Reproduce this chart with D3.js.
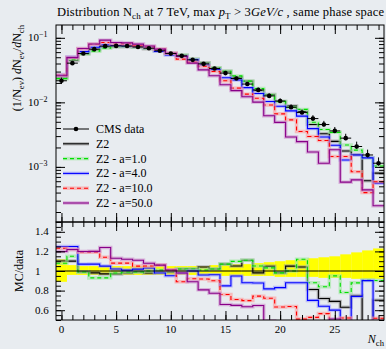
<!DOCTYPE html>
<html>
<head>
<meta charset="utf-8">
<script src="https://cdn.jsdelivr.net/npm/d3@7"></script>
<style>
  body { margin: 0; background: #e8ecf0; }
  svg { display: block; font-family: "Liberation Serif", "DejaVu Serif", serif; }
</style>
</head>
<body>
<svg id="chart" width="386" height="349"></svg>
<script>
// bin centres (N_ch)
const nch = [0,1,2,3,4,5,6,7,8,9,10,11,12,13,14,15,16,17,18,19,20,21,22,23,24,25,26,27,28,29];

// CMS data and its relative uncertainty (up / down)
const cmsData = [0.0216,0.0405,0.0571,0.0668,0.0743,0.0750,0.0745,0.0720,0.0690,0.0630,
                 0.0570,0.0526,0.0456,0.0395,0.0334,0.0284,0.0234,0.0192,0.0156,0.0126,
                 0.0105,0.0084,0.00695,0.0056,0.00453,0.00361,0.00279,0.00207,0.00153,0.00114];
const cmsErrUp = [0.12,0.06,0.05,0.05,0.05,0.05,0.05,0.05,0.05,0.05,0.05,0.05,0.05,0.05,0.06,
                  0.06,0.07,0.07,0.08,0.09,0.10,0.11,0.12,0.13,0.14,0.15,0.17,0.19,0.21,0.23];
const cmsErrDn = [0.11,0.04,0.04,0.04,0.04,0.04,0.04,0.04,0.04,0.04,0.04,0.04,0.04,0.04,0.04,
                  0.05,0.05,0.05,0.05,0.05,0.06,0.06,0.06,0.06,0.07,0.07,0.07,0.08,0.08,0.08];

// MC predictions
const z2 = [0.0238,0.0446,0.0565,0.0655,0.0721,0.0728,0.0730,0.0713,0.0676,0.0630,
            0.0564,0.0537,0.0465,0.0411,0.0341,0.0304,0.0246,0.0213,0.0153,0.0132,
            0.0103,0.00882,0.00723,0.00454,0.00326,0.00249,0.00176,0.00155,0.00061,0.00080];
const z2a1 = [0.0233,0.0466,0.0565,0.0621,0.0691,0.0735,0.0738,0.0713,0.0690,0.0636,
              0.0570,0.0537,0.0465,0.0399,0.0341,0.0304,0.0257,0.0213,0.0164,0.0130,
              0.0103,0.0084,0.00778,0.00493,0.00380,0.00343,0.00218,0.00182,0.00139,0.00103];
const z2a4 = [0.0270,0.0506,0.0611,0.0715,0.0780,0.0765,0.0752,0.0734,0.0711,0.0617,
              0.0542,0.0515,0.0456,0.0379,0.0321,0.0241,0.0222,0.0169,0.0137,0.0103,
              0.00872,0.00739,0.00612,0.00392,0.00290,0.00217,0.00128,0.00153,0.00138,0.00056];
const z2a10 = [0.0266,0.0494,0.0680,0.0795,0.0847,0.0810,0.0805,0.0756,0.0725,0.0668,
               0.0576,0.0468,0.0420,0.0363,0.0301,0.0216,0.0166,0.0134,0.0116,0.0091,
               0.00664,0.00536,0.00354,0.00295,0.00256,0.00145,0.00145,0.00084,0.00040,0.00059];
const z2a50 = [0.0259,0.0494,0.0685,0.0802,0.0921,0.0848,0.0834,0.0799,0.0745,0.0668,
               0.0576,0.0515,0.0406,0.0319,0.0258,0.0187,0.0152,0.0122,0.0101,0.0062,
               0.0049,0.0029,0.00246,0.0017,0.00114,0.00184,0.00058,0.00063,0.00044,0.00025];

const legendNames = ["CMS data", "Z2", "Z2 - a=1.0", "Z2 - a=4.0", "Z2 - a=10.0", "Z2 - a=50.0"];
const mainTicks = [1e-3, 1e-2, 1e-1];
const mainTickExp = ["\u22123", "\u22122", "\u22121"];
const ratioTicks = [0.6, 0.8, 1, 1.2, 1.4];
const ratioTickLabels = ["0.6", "0.8", "1", "1.2", "1.4"];
const xTicks = [0, 5, 10, 15, 20, 25];

const series = [
  {values: z2,    color: "#000000", halo: "#9a9a9a", dash: null},
  {values: z2a1,  color: "#00e000", halo: "#9be89b", dash: "4,3"},
  {values: z2a4,  color: "#0000ff", halo: "#9a9aff", dash: null},
  {values: z2a10, color: "#ff0000", halo: "#ff9a9a", dash: "4,3"},
  {values: z2a50, color: "#880088", halo: "#cc88cc", dash: null}
];

const L = 56, R = 384, T = 25, MB = 222, RB = 320;

const svg = d3.select("#chart");

const x = d3.scaleLinear().domain([-0.5, 29.5]).range([L, R]);
const y = d3.scaleLog().domain([1.4e-4, 0.158]).range([MB, T]);
const yr = d3.scaleLinear().domain([0.5, 1.5]).range([RB, MB]);

svg.append("defs").append("clipPath").attr("id", "clipMain")
  .append("rect").attr("x", L).attr("y", T).attr("width", R - L).attr("height", MB - T);
svg.select("defs").append("clipPath").attr("id", "clipRatio")
  .append("rect").attr("x", L).attr("y", MB).attr("width", R - L).attr("height", RB - MB);

// step outline of a histogram
function stepPts(vals) {
  const pts = vals.map((v, i) => [nch[i] - 0.5, v]);
  pts.push([nch[nch.length - 1] + 0.5, vals[vals.length - 1]]);
  return pts;
}
const lineMain = d3.line().x(d => x(d[0])).y(d => y(d[1])).curve(d3.curveStepAfter);
const lineRatio = d3.line().x(d => x(d[0])).y(d => yr(d[1])).curve(d3.curveStepAfter);

function drawSeries(g, gen, vals, s) {
  g.append("path").attr("d", gen(stepPts(vals)))
    .attr("fill", "none").attr("stroke", s.halo).attr("stroke-width", 3.5).attr("opacity", 0.6);
  g.append("path").attr("d", gen(stepPts(vals)))
    .attr("fill", "none").attr("stroke", s.color).attr("stroke-width", 1.1)
    .attr("stroke-dasharray", s.dash);
}

// ---------- main panel ----------
const gMain = svg.append("g").attr("clip-path", "url(#clipMain)");
series.forEach(s => drawSeries(gMain, lineMain, s.values, s));

// data points
const pts = svg.append("g").attr("clip-path", "url(#clipMain)");
cmsData.forEach((v, i) => {
  pts.append("line").attr("x1", x(nch[i] - 0.5)).attr("x2", x(nch[i] + 0.5))
    .attr("y1", y(v)).attr("y2", y(v)).attr("stroke", "#000").attr("stroke-width", 1);
  pts.append("line").attr("x1", x(nch[i])).attr("x2", x(nch[i]))
    .attr("y1", y(v * (1 + cmsErrUp[i]))).attr("y2", y(v * (1 - cmsErrDn[i])))
    .attr("stroke", "#000").attr("stroke-width", 1);
  pts.append("circle").attr("cx", x(nch[i])).attr("cy", y(v)).attr("r", 2.3).attr("fill", "#000");
});

// legend
const leg = svg.append("g").attr("font-size", "12px");
legendNames.forEach((name, i) => {
  const ly = 129 + i * 14.8;
  if (i == 0) {
    leg.append("line").attr("x1", 63).attr("x2", 89).attr("y1", ly).attr("y2", ly)
      .attr("stroke", "#000").attr("stroke-width", 1);
    leg.append("circle").attr("cx", 76).attr("cy", ly).attr("r", 2.3).attr("fill", "#000");
  } else {
    const s = series[i - 1];
    leg.append("line").attr("x1", 63).attr("x2", 89).attr("y1", ly).attr("y2", ly)
      .attr("stroke", s.halo).attr("stroke-width", 3.5).attr("opacity", 0.6);
    leg.append("line").attr("x1", 63).attr("x2", 89).attr("y1", ly).attr("y2", ly)
      .attr("stroke", s.color).attr("stroke-width", 1.1).attr("stroke-dasharray", s.dash);
  }
  leg.append("text").attr("x", 96).attr("y", ly + 4).attr("fill", "#000").text(name);
});

// ---------- ratio panel ----------
const gRatio = svg.append("g").attr("clip-path", "url(#clipRatio)");
cmsData.forEach((v, i) => {
  gRatio.append("rect").attr("x", x(nch[i] - 0.5)).attr("width", x(1) - x(0))
    .attr("y", yr(1 + cmsErrUp[i])).attr("height", yr(1 - cmsErrDn[i]) - yr(1 + cmsErrUp[i]))
    .attr("fill", "#ffff00");
});
series.forEach(s => drawSeries(gRatio, lineRatio, s.values.map((v, i) => v / cmsData[i]), s));
gRatio.append("path").attr("d", lineRatio(stepPts(cmsData.map(() => 1))))
  .attr("fill", "none").attr("stroke", "#000").attr("stroke-width", 1);

// ---------- axes / ticks ----------
function ticks(gen, tx, ty) {
  svg.append("g").attr("transform", "translate(" + tx + "," + ty + ")")
    .attr("color", "#000").call(gen.tickFormat(""))
    .call(g => g.select(".domain").remove());
}
const minorX = nch;
[T, RB].forEach(yy => {
  const mk = yy == T ? d3.axisBottom : d3.axisTop;
  ticks(mk(x).tickValues(minorX).tickSize(5), 0, yy);
  ticks(mk(x).tickValues(xTicks).tickSize(9), 0, yy);
});
ticks(d3.axisTop(x).tickValues(minorX).tickSize(5), 0, MB);
ticks(d3.axisTop(x).tickValues(xTicks).tickSize(9), 0, MB);
ticks(d3.axisBottom(x).tickValues(minorX).tickSize(5), 0, MB);
ticks(d3.axisBottom(x).tickValues(xTicks).tickSize(9), 0, MB);

const minorY = y.ticks();
ticks(d3.axisRight(y).tickValues(minorY).tickSize(5), L, 0);
ticks(d3.axisRight(y).tickValues(mainTicks).tickSize(9), L, 0);
ticks(d3.axisLeft(y).tickValues(minorY).tickSize(5), R, 0);
ticks(d3.axisLeft(y).tickValues(mainTicks).tickSize(9), R, 0);

const minorR = yr.ticks(20);
ticks(d3.axisRight(yr).tickValues(minorR).tickSize(5), L, 0);
ticks(d3.axisRight(yr).tickValues(ratioTicks).tickSize(9), L, 0);
ticks(d3.axisLeft(yr).tickValues(minorR).tickSize(5), R, 0);
ticks(d3.axisLeft(yr).tickValues(ratioTicks).tickSize(9), R, 0);

// frames
[[T, MB], [MB, RB]].forEach(p => {
  svg.append("rect").attr("x", L).attr("y", p[0]).attr("width", R - L).attr("height", p[1] - p[0])
    .attr("fill", "none").attr("stroke", "#000").attr("stroke-width", 1);
});

// tick labels
const lab = svg.append("g").attr("font-size", "11px").attr("fill", "#000");
mainTicks.forEach((v, i) => {
  const t = lab.append("text").attr("x", 28).attr("y", y(v) + 3.5);
  t.append("tspan").text("10");
  t.append("tspan").attr("dy", -4).attr("font-size", "8px").text(mainTickExp[i]);
});
ratioTicks.forEach((v, i) => {
  lab.append("text").attr("x", 35).attr("y", yr(v) + 3.5).text(ratioTickLabels[i]);
});
xTicks.forEach(v => {
  lab.append("text").attr("x", x(v)).attr("y", 333).attr("text-anchor", "middle").text(v);
});

// rich text helper
function rich(t, parts) {
  parts.forEach(p => {
    const s = t.append("tspan").text(p.t);
    if (p.i) s.attr("font-style", "italic");
    if (p.sub) s.attr("font-size", "0.72em").attr("dy", 2.5);
    if (p.back) s.attr("dy", -2.5);
  });
}

// title
const title = svg.append("text").attr("x", 57).attr("y", 16)
  .attr("font-size", "12.5px").attr("fill", "#000")
  .attr("textLength", 327).attr("lengthAdjust", "spacing");
rich(title, [
  {t: "Distribution N"}, {t: "ch", sub: true}, {t: " at 7 TeV, max ", back: true},
  {t: "p", i: true}, {t: "T", sub: true}, {t: " > 3", back: true}, {t: "GeV/c", i: true},
  {t: " , same phase space"}
]);

// y labels
const yl = svg.append("text").attr("transform", "translate(21," + T + ") rotate(-90)")
  .attr("text-anchor", "end").attr("font-size", "12px").attr("fill", "#000");
rich(yl, [
  {t: "(1/N"}, {t: "ev", sub: true}, {t: ") ", back: true}, {t: "d", i: true}, {t: "N"},
  {t: "ev", sub: true}, {t: "/", back: true}, {t: "d", i: true}, {t: "N"}, {t: "ch", sub: true}
]);
svg.append("text").attr("transform", "translate(23," + yr(1) + ") rotate(-90)")
  .attr("text-anchor", "middle").attr("font-size", "12px").attr("fill", "#000").text("MC/data");

// x label
const xl = svg.append("text").attr("x", R).attr("y", 343).attr("text-anchor", "end")
  .attr("font-size", "12px").attr("fill", "#000");
rich(xl, [{t: "N", i: true}, {t: "ch", sub: true}]);
</script>
</body>
</html>
